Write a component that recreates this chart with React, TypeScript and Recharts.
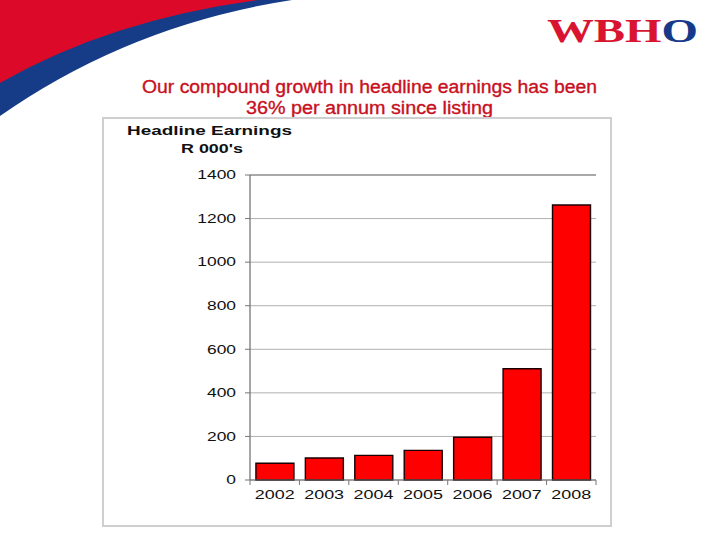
import React from "react";
import { Bar, BarChart, CartesianGrid, ReferenceLine, XAxis, YAxis } from "recharts";

const years = ["2002", "2003", "2004", "2005", "2006", "2007", "2008"];
const earnings = [77, 101, 113, 136, 196, 511, 1262];
const yTicks = [0, 200, 400, 600, 800, 1000, 1200, 1400];

const titleLines = [
  "Our compound growth in headline earnings has been",
  "36% per annum since listing",
];
const axisTitle = ["Headline Earnings", "R 000's"];

const data = years.map((year, i) => ({ year, value: earnings[i] }));

const sans = "'Liberation Sans', Arial, sans-serif";

// the chart in the slide is a horizontally stretched picture, so the labels get a scaleX
function YearTick(props: any) {
  const { x, y, payload, index } = props;
  const half = payload.offset ?? 0;
  return (
    <g>
      <line x1={x - half} x2={x - half} y1={y - 2} y2={y + 3} stroke="#777" />
      {index === years.length - 1 && (
        <line x1={x + half} x2={x + half} y1={y - 2} y2={y + 3} stroke="#777" />
      )}
      <text
        transform={`translate(${x},${y + 17}) scale(1.38,1)`}
        textAnchor="middle"
        fontFamily={sans}
        fontSize={13}
        fill="#111"
      >
        {payload.value}
      </text>
    </g>
  );
}

function ValueTick(props: any) {
  const { x, y, payload } = props;
  return (
    <text
      transform={`translate(${x},${y}) scale(1.45,1)`}
      textAnchor="end"
      dy="0.36em"
      fontFamily={sans}
      fontSize={12}
      fill="#111"
    >
      {payload.value}
    </text>
  );
}

function Decorations() {
  return (
    <svg width={720} height={540} style={{ position: "absolute", left: 0, top: 0 }}>
      {/* corner swoosh */}
      <path d="M0,0 L292,0 Q130,25 0,116 Z" fill="#163c88" />
      <path d="M0,0 L258,0 Q110,20 0,83 Z" fill="#dc0a28" />

      {/* logo */}
      <text
        x={547}
        y={42}
        fontFamily="'Liberation Serif', serif"
        fontWeight="bold"
        fontSize={33}
        textLength={151}
        lengthAdjust="spacingAndGlyphs"
      >
        <tspan fill="#d81430">WBH</tspan>
        <tspan fill="#153a8a">O</tspan>
      </text>

      {/* title */}
      {titleLines.map((line, i) => (
        <text
          key={line}
          x={i === 0 ? 142 : 246}
          y={93 + i * 21}
          fontFamily={sans}
          fontSize={18}
          textLength={i === 0 ? 455 : 247}
          lengthAdjust="spacingAndGlyphs"
          fill="#c8101e"
          stroke="#c8101e"
          strokeWidth={0.35}
        >
          {line}
        </text>
      ))}

      {/* picture frame */}
      <rect x={103} y={118} width={508} height={408} fill="none" stroke="#cfcfcf" strokeWidth={2} />

      {/* axis title */}
      <text
        x={127}
        y={135}
        fontFamily={sans}
        fontWeight="bold"
        fontSize={12}
        textLength={165}
        lengthAdjust="spacingAndGlyphs"
        fill="#111"
      >
        {axisTitle[0]}
      </text>
      <text
        x={181}
        y={153}
        fontFamily={sans}
        fontWeight="bold"
        fontSize={12}
        textLength={62}
        lengthAdjust="spacingAndGlyphs"
        fill="#111"
      >
        {axisTitle[1]}
      </text>
    </svg>
  );
}

export default function App() {
  return (
    <div style={{ position: "absolute", left: 0, top: 0, width: 720, height: 540, background: "#fff" }}>
      <Decorations />
      <div style={{ position: "absolute", left: 0, top: 0 }}>
        <BarChart
          width={720}
          height={540}
          data={data}
          margin={{ top: 175, right: 124, bottom: 30, left: 0 }}
          barCategoryGap="12%"
        >
          <CartesianGrid vertical={false} stroke="#b0b0b0" />
          <ReferenceLine y={1400} stroke="#7a7a7a" strokeWidth={1.2} />
          <XAxis
            dataKey="year"
            height={30}
            axisLine={{ stroke: "#6a6a6a", strokeWidth: 1.2 }}
            tickLine={false}
            tickSize={0}
            tick={<YearTick />}
            interval={0}
          />
          <YAxis
            domain={[0, 1400]}
            ticks={yTicks}
            width={250}
            tickSize={5}
            tickMargin={9}
            axisLine={{ stroke: "#6a6a6a", strokeWidth: 1.2 }}
            tickLine={{ stroke: "#777" }}
            tick={<ValueTick />}
          />
          <YAxis
            yAxisId="frame"
            orientation="right"
            width={0}
            tick={false}
            tickLine={false}
            axisLine={{ stroke: "#7a7a7a", strokeWidth: 1.2 }}
          />
          <Bar
            dataKey="value"
            fill="#ff0000"
            stroke="#1a0000"
            strokeWidth={1.4}
            isAnimationActive={false}
          />
        </BarChart>
      </div>
    </div>
  );
}
